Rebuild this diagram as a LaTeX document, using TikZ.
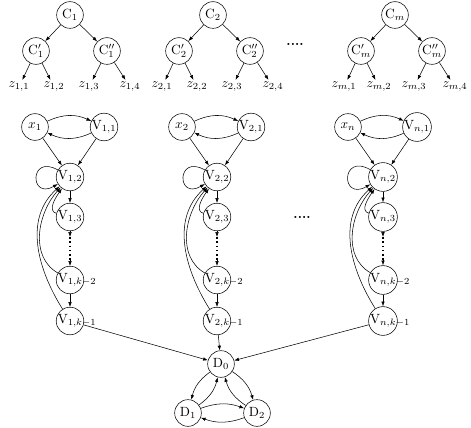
\documentclass[tikz,border=0pt]{standalone}
\usetikzlibrary{arrows.meta}
\tikzset{
  >={Latex[length=3.6pt,width=2.6pt]},
  state/.style={circle,draw,minimum size=20pt,inner sep=0pt},
  leaf/.style={inner sep=1.5pt},
  back/.style={->,looseness=1},
}
% subscript that may stick out of the circle
\newcommand{\Vs}[2]{\mathrm{V}_{#1,\rlap{$\scriptstyle #2$}\phantom{2}}}

\begin{document}
\begin{tikzpicture}[x=0.75pt,y=-0.75pt]
  \useasboundingbox (0,0) rectangle (471,428);
  % trees
  \foreach \t/\r in {1/70,2/213,m/395} {
    \node[state] (c\t) at (\r,15) {$\mathrm{C}_{\t}$};
    \node[state] (ca\t) at (\r-34,51) {$\mathrm{C}'_{\t}$};
    \node[state] (cb\t) at (\r+37,51) {$\mathrm{C}''_{\t}$};
    \foreach \j/\dx in {1/-51,2/-16,3/19,4/60}
      \node[leaf] (z\t\j) at (\r+\dx,87) {$z_{\t,\j}$};
    \draw[->] (c\t) -- (ca\t);
    \draw[->] (c\t) -- (cb\t);
    \draw[->] (ca\t) -- (z\t1);
    \draw[->] (ca\t) -- (z\t2);
    \draw[->] (cb\t) -- (z\t3);
    \draw[->] (cb\t) -- (z\t4);
  }
  \node (tdots) at (295,44) {\textbf{....}};
  % chains
  \node[state] (d0) at (221,364) {$\mathrm{D}_0$};
  \node[state] (d1) at (188,413) {$\mathrm{D}_1$};
  \node[state] (d2) at (257,413) {$\mathrm{D}_2$};
  \foreach \c/\v in {1/70,2/217,n/383} {
    \node[state] (x\c) at (\v-35,127) {$x_{\c}$};
    \node[state] (v\c1) at (\v+34,127) {$\mathrm{V}_{\c,1}$};
    \node[state] (v\c2) at (\v,177) {$\mathrm{V}_{\c,2}$};
    \node[state] (v\c3) at (\v,217) {$\mathrm{V}_{\c,3}$};
    \node[state] (v\c4) at (\v,280) {$\Vs{\c}{k-2}$};
    \node[state] (v\c5) at (\v,321) {$\Vs{\c}{k-1}$};
    \coordinate (a\c) at (\v,237);
    \coordinate (b\c) at (\v,260);
    \draw[->] (x\c) to[bend left=25] (v\c1);
    \draw[->] (v\c1) to[bend left=25] (x\c);
    \draw[->] (x\c) -- (v\c2);
    \draw[->] (v\c1) -- (v\c2);
    \draw[->] (v\c2) to[out=150,in=210,looseness=6,min distance=18pt] (v\c2);
    \draw[->] (v\c2) -- (v\c3);
    \draw[->] (v\c3) -- (a\c);
    \draw[very thick,dotted] (a\c) -- (b\c);
    \draw[->] (b\c) -- (v\c4);
    \draw[->] (v\c4) -- (v\c5);
    \draw[back] (v\c3) to[out=165,in=235] (v\c2);
    \draw[back] (v\c4) to[out=150,in=228] (v\c2);
    \draw[back] (v\c5) to[out=122,in=222] (v\c2);
    \draw[->] (v\c5) -- (d0);
  }
  \node (vdots) at (302,217) {\textbf{....}};
  \draw[->] (d0) to[bend right=20] (d1);
  \draw[->] (d1) to[bend right=20] (d0);
  \draw[->] (d0) to[bend left=20] (d2);
  \draw[->] (d2) to[bend left=20] (d0);
  \draw[->] (d1) to[bend left=20] (d2);
  \draw[->] (d2) to[bend left=20] (d1);
\end{tikzpicture}
\end{document}
